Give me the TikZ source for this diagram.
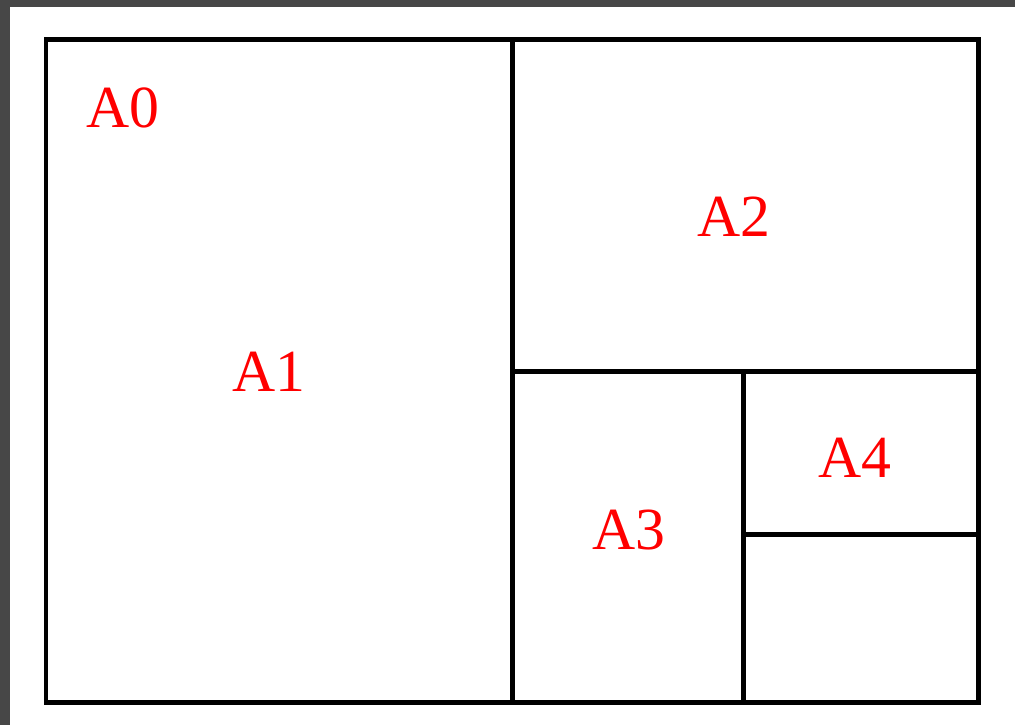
\documentclass[tikz,border=0pt]{standalone}
\usepackage{fontspec}
\setmainfont{Liberation Serif}

\begin{document}
\begin{tikzpicture}[
  x=0.02cm, y=-0.02cm,
  sheet/.style={draw=black, line width=1mm},
  every node/.style={text=red, inner sep=0pt, font=\fontsize{34}{40}\selectfont}]
% page and window edge
\useasboundingbox (0,0) rectangle (1015,725);
\fill[white] (0,0) rectangle (1015,725);
\fill[black!72] (0,0) rectangle (1015,7);
\fill[black!72] (0,0) rectangle (10,725);
% the sheet and its cuts
\draw[sheet] (46,39.5) rectangle (978.5,702);
\draw[sheet] (512.5,39.5) -- (512.5,702);
\draw[sheet] (512.5,371.5) -- (978.5,371.5);
\draw[sheet] (743.5,371.5) -- (743.5,702);
\draw[sheet] (743.5,534) -- (978.5,534);
% labels
\node (a0) at (123,107.5) {A0};
\node (a1) at (269,371.5) {A1};
\node (a2) at (733.5,217) {A2};
\node (a3) at (629,530) {A3};
\node (a4) at (855,458) {A4};
\end{tikzpicture}
\end{document}
